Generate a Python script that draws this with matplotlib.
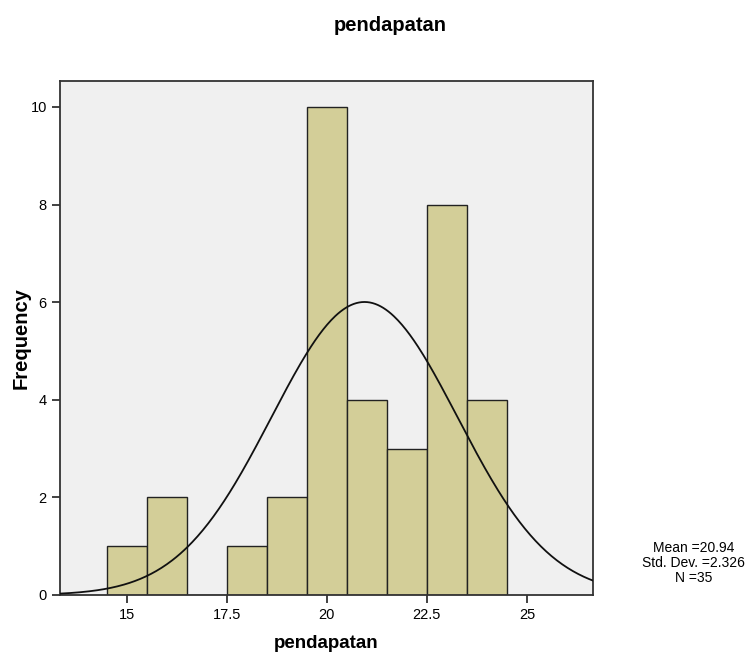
import numpy as np
import matplotlib
matplotlib.use("Agg")
import matplotlib.pyplot as plt

plt.rcParams['font.family'] = ['Liberation Sans', 'DejaVu Sans']

bin_edges = [14.5, 15.5, 16.5, 17.5, 18.5, 19.5, 20.5, 21.5, 22.5, 23.5, 24.5]
counts = [1, 2, 0, 1, 2, 10, 4, 3, 8, 4]
mean = 20.94
std = 2.326
n = 35
x_ticks = [15, 17.5, 20, 22.5, 25]
x_tick_labels = ['15', '17.5', '20', '22.5', '25']
y_ticks = [0, 2, 4, 6, 8, 10]

fig = plt.figure(figsize=(7.47, 6.68), dpi=100)
ax = fig.add_axes([0.0803, 0.1093, 0.7135, 0.7694])
ax.set_facecolor('#f0f0f0')

lefts = bin_edges[:-1]
widths = np.diff(bin_edges)
ax.bar(lefts, counts, width=widths, align='edge', color='#d3ce98',
       edgecolor='#222222', linewidth=1.0, zorder=2)

xlo, xhi = 13.33, 26.65
xs = np.linspace(xlo, xhi, 400)
bw = 1.0
ys = n * bw / (std * np.sqrt(2 * np.pi)) * np.exp(-0.5 * ((xs - mean) / std) ** 2)
ax.plot(xs, ys, color='#111111', linewidth=1.3, zorder=3)

ax.set_xlim(xlo, xhi)
ax.set_ylim(0, 10.53)
ax.set_xticks(x_ticks)
ax.set_xticklabels(x_tick_labels)
ax.set_yticks(y_ticks)
ax.tick_params(direction='out', length=6, width=1.3, labelsize=10.5, color='#333333')
for s in ax.spines.values():
    s.set_color('#333333')
    s.set_linewidth(1.3)

ax.set_xlabel('pendapatan', fontsize=13.5, fontweight='bold', labelpad=9)
ax.set_ylabel('Frequency', fontsize=14.5, fontweight='bold', labelpad=0)
fig.text(0.522, 0.962, 'pendapatan', ha='center', va='center',
         fontsize=14.5, fontweight='bold')

stats = 'Mean =%.2f\nStd. Dev. =%.3f\nN =%d' % (mean, std, n)
fig.text(0.928, 0.157, stats, ha='center', va='center', fontsize=10,
         linespacing=1.1)

fig.savefig('out.png', dpi=100)
